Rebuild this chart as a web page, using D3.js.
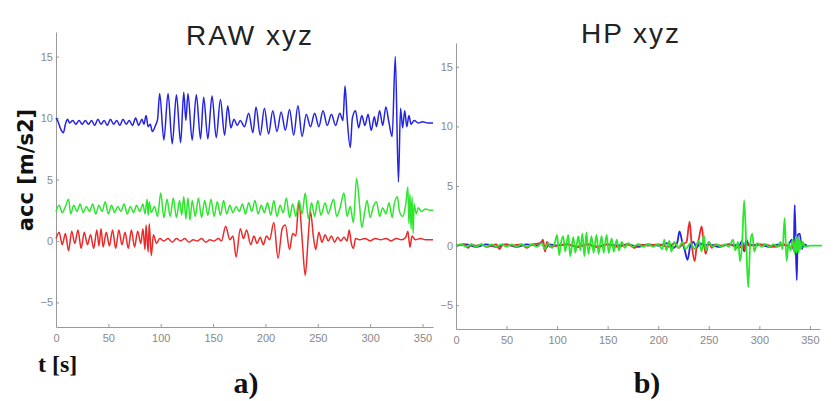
<!DOCTYPE html>
<html>
<head>
<meta charset="utf-8">
<script src="https://cdn.jsdelivr.net/npm/d3@7"></script>
<style>
  body { margin: 0; background: #fff; }
  .tick text { fill: #888; font-family: "Liberation Sans", Arial, sans-serif; font-size: 11px; }
  .domain, .tick line { stroke: #999; }
</style>
</head>
<body>
<div id="chart-area"></div>
<script>
// time axis / value axis ticks
var xTicks = [0, 50, 100, 150, 200, 250, 300, 350];
var yTicks = [-5, 0, 5, 10, 15];

// RAW signals, [t (s), acc (m/s2)]
var rawX = [[0,10.0],[2,9.7],[4,9.2],[7,8.8],[9,9.5],[11,9.9],[13,9.6],[16,9.8],[19,9.5],[22,9.8],[25,9.5],[28,9.8],[31,9.5],[34,9.8],[37,9.4],[40,9.9],[43,9.5],[46,9.8],[49,9.4],[52,9.9],[55,9.5],[58,9.8],[61,9.4],[64,9.9],[67,9.5],[70,9.8],[73,9.4],[76,10.0],[79,9.4],[82,9.9],[84,9.5],[86,10.2],[88,9.3],[90,9.5],[92,8.9],[95,9.4],[97,9.9],
  [99,12.0],[103,8.2],[107,12.0],[111,7.9],[115,11.9],[119,8.0],[122,12.1],[124,9.8],[126,12.0],[130,8.2],[134,11.9],[138,8.3],[141,11.7],[145,8.3],[149,11.8],[153,8.4],[157,11.5],[161,8.6],[164,11.0],[167,9.2],[170,9.9],[173,9.4],
  [176,9.8],[180,9.3],[184,10.4],[188,8.8],[191,10.9],[195,8.6],[199,10.8],[203,8.7],[207,10.6],[211,8.9],[215,10.5],[219,9.0],[223,10.7],[227,8.6],[231,11.0],[235,8.5],[239,10.3],[243,9.3],[247,10.4],[251,9.3],[255,10.6],[259,9.4],[263,10.3],[267,9.4],[271,10.4],[274,9.8],
  [276,12.6],[278,10.0],[281,7.6],[283,10.0],[286,10.6],[289,9.2],[292,10.2],[295,9.4],[298,10.3],[301,9.0],[304,10.1],[306,9.3],[309,10.6],[312,9.4],[315,10.9],[318,9.6],[321,8.5],[324,15.0],[327,4.8],[329,10.8],[331,9.2],[333,10.6],[335,9.3],[337,10.2],[339,9.5],[342,9.8],[346,9.6],[350,9.7],[355,9.6],[360,9.6]];

var rawY = [[0,2.4],[3,2.9],[6,2.3],[9,2.8],[12,3.4],[14,2.2],[17,2.9],[20,2.4],[23,3.0],[26,2.3],[29,2.8],[32,2.4],[35,3.0],[38,2.2],[41,2.9],[44,2.4],[47,3.2],[50,2.2],[53,2.9],[56,2.3],[59,2.8],[62,2.4],[65,3.0],[68,2.2],[71,2.8],[74,2.3],[77,2.9],[80,2.4],[83,3.0],[85,2.2],[87,3.4],[88,2.1],[89,3.2],[91,2.3],[94,2.8],[97,2.0],
  [100,3.9],[103,1.9],[106,3.4],[109,2.0],[112,3.5],[115,1.9],[118,3.3],[120,2.1],[122,3.6],[124,1.8],[126,3.5],[128,1.7],[130,3.3],[133,2.0],[136,3.5],[139,1.9],[142,3.3],[145,2.1],[148,3.4],[151,2.0],[154,3.2],[157,2.1],[160,3.3],[163,2.2],[166,2.9],[169,2.3],[172,2.8],[175,2.4],
  [178,3.0],[181,2.2],[184,3.1],[187,2.4],[190,3.3],[193,2.2],[196,2.9],[199,2.3],[202,3.1],[205,2.1],[208,3.3],[211,2.0],[214,2.9],[217,2.3],[220,3.5],[223,1.9],[226,3.0],[229,2.0],[232,3.3],[235,2.2],[238,3.9],[241,1.8],[244,3.1],[247,2.0],[250,3.3],[253,2.1],[257,3.1],[260,2.2],[263,3.0],[265,3.4],[268,2.0],[271,2.6],[275,3.9],[278,2.0],[281,2.8],[284,1.5],
  [287,5.1],[290,2.8],[292,1.1],[295,2.5],[297,3.3],[300,1.9],[303,2.8],[306,3.2],[309,2.0],[312,2.7],[315,2.2],[318,3.1],[321,1.9],[323,3.0],[326,3.6],[328,2.4],[331,2.0],[334,3.0],[336,4.4],[337,1.4],[338,3.8],[339,1.0],[340,3.6],[341,0.6],[342,3.0],[344,2.2],[346,2.7],[349,2.4],[353,2.6],[357,2.5],[360,2.5]];

var rawZ = [[0,0.2],[3,0.7],[6,-0.3],[9,0.6],[12,-0.8],[15,0.8],[18,-0.2],[21,0.9],[24,-0.6],[27,0.7],[30,-0.3],[33,0.5],[36,-0.6],[39,0.9],[41,-0.4],[43,1.0],[45,-0.5],[48,0.7],[51,-0.4],[54,0.9],[57,-0.6],[60,0.9],[63,-0.3],[66,0.7],[69,-0.6],[72,0.9],[75,-0.5],[78,0.8],[81,-0.2],[83,1.0],[85,-0.7],[86,1.3],[88,-0.9],[89,1.4],[91,-1.2],[93,0.5],[96,-0.2],
  [99,0.2],[103,0.0],[107,0.2],[111,-0.1],[115,0.2],[119,0.0],[123,0.2],[127,-0.1],[131,0.1],[135,0.0],[139,0.2],[143,-0.1],[147,0.1],[151,0.0],[155,0.2],[158,0.0],
  [162,1.2],[166,0.1],[169,0.4],[172,-1.3],[176,1.0],[179,0.2],[182,0.9],[186,-0.3],[189,0.4],[192,-0.2],[195,0.3],[198,-0.3],[201,0.4],[204,0.1],[208,1.5],[212,-1.4],[216,1.0],[219,1.3],[223,-0.7],[226,0.6],[229,0.4],[232,3.2],[235,0.2],[238,-2.8],[241,0.5],[243,2.4],[246,0.2],[248,-0.7],[251,0.7],[254,-0.1],[257,0.5],[260,0.0],[263,0.4],[266,-0.1],[269,0.3],[272,0.0],[275,0.3],[278,0.0],[280,0.9],[282,-0.2],[284,-0.6],[286,0.2],
  [290,0.1],[295,0.2],[300,0.0],[305,0.2],[310,0.1],[315,0.2],[320,0.0],[325,0.2],[330,0.1],[334,0.3],[336,0.8],[338,-0.5],[340,0.4],[343,0.1],[348,0.2],[353,0.1],[360,0.1]];

// high-pass filtered signals
var hpX = [[0,0],[10,0.1],[20,-0.1],[30,0.1],[40,-0.1],[50,0.1],[60,-0.1],[70,0.1],[80,0],[85,0.3],[88,-0.3],[92,0.1],[100,0],[110,0.1],[120,-0.1],[130,0.1],[140,-0.1],[150,0.1],[160,0],[170,0.1],[180,-0.1],[190,0.1],[200,0],[210,0.2],[215,-0.2],[219,0.3],[221,1.2],[224,0.2],[226,-0.3],[229,-1.2],[232,0.1],[235,0.3],[238,-0.2],[241,0.2],[245,0.0],[250,0.1],[260,-0.1],[270,0.1],[280,0],[283,0.4],[285,-0.5],[287,0.5],[290,0],[300,0.1],[310,-0.1],[320,0.1],[328,0],[332,0.5],[334,-0.4],[335,3.4],[337,-2.9],[338,0.9],[340,1.0],[342,-0.3],[344,0.1],[347,0]];

var hpY = [[0,0],[5,0.1],[10,-0.1],[15,0.1],[20,-0.1],[25,0.1],[30,-0.1],[35,0.1],[40,-0.1],[45,0.1],[50,-0.1],[55,0.1],[60,-0.1],[65,0.1],[70,-0.1],[75,0.1],[80,-0.1],[85,0.2],[88,-0.3],[91,0.2],[95,-0.2],[98,0.3],
  [100,0.9],[102,-0.8],[104,0.3],[106,0.8],[108,-0.5],[111,0.9],[113,-0.9],[116,0.7],[118,-0.6],[121,0.8],[123,-0.4],[125,1.0],[127,-0.9],[129,1.1],[131,-0.7],[134,0.8],[136,-0.6],[139,0.9],[141,-0.7],[144,0.8],[146,-0.6],[149,0.9],[151,-0.6],[154,0.6],[156,-0.5],[159,0.5],[161,-0.4],[164,0.3],[167,-0.2],[170,0.2],
  [175,-0.1],[180,0.1],[185,-0.1],[190,0.1],[195,-0.1],[200,0.1],[204,-0.3],[206,0.5],[208,-0.4],[211,0.4],[213,-0.5],[216,0.3],[220,-0.2],[224,0.3],[227,-0.3],[232,0.2],[236,-0.3],[240,0.4],[243,-0.5],[245,0.9],[247,-0.4],[250,0.3],[254,-0.1],[258,0.1],[262,-0.1],[266,0.1],[270,-0.1],[274,0.5],[276,-0.4],[279,0.3],[281,-1.3],[283,0.2],
  [285,3.8],[287,0.3],[289,-3.5],[291,0.2],[293,1.0],[295,-0.5],[298,0.2],[302,-0.1],[306,0.1],[310,-0.1],[314,0.1],[318,-0.1],[321,0.3],[323,-0.3],[325,2.3],[327,-1.3],[329,0.2],[331,-0.4],[333,0.5],[335,-0.7],[336,0.8],[337,-0.6],[338,0.7],[339,-0.6],[340,0.5],[341,-0.3],[343,0.3],[345,-0.1],[350,0.0],[362,0.0]];

var hpZ = [[0,0],[8,0.1],[12,-0.2],[15,0.1],[20,0],[25,0.1],[30,-0.1],[40,0.1],[43,-0.3],[46,0.1],[55,0],[65,0.1],[70,-0.2],[75,0.1],[84,0.2],[86,0.5],[88,-0.5],[90,0.3],[93,-0.1],[100,0],[110,0.1],[120,-0.1],[130,0.1],[140,-0.1],[150,0.1],[160,-0.1],[170,0.1],[177,-0.2],[180,0.1],[190,0],[200,0.1],[210,-0.1],[216,0.2],[220,-0.2],[224,0.1],[228,0.3],
  [231,2.0],[233,0.2],[236,-1.3],[238,-0.1],[240,0.5],[243,1.6],[245,0.2],[247,-0.7],[250,0.3],[253,-0.2],[256,0.1],[262,0],[270,0.1],[280,-0.2],[284,0.1],[286,-0.4],[288,0.1],[295,0],[305,0.1],[315,-0.1],[325,0.1],[332,-0.2],[335,0.3],[338,-0.2],[341,0.2],[344,0]];

var colors = { x: "#2424e0", y: "#2ee62e", z: "#ec2a2a" };

var svg = d3.select("#chart-area")
  .append("svg")
    .attr("width", 838)
    .attr("height", 401);

function panel(cfg) {
  var x = d3.scaleLinear().domain([0, 360]).range(cfg.xRange);
  var y = d3.scaleLinear().domain([-7, 17]).range(cfg.yRange);

  var g = svg.append("g");

  g.append("g")
    .attr("transform", "translate(0," + cfg.yRange[0] + ")")
    .call(d3.axisBottom(x).tickValues(xTicks).tickSize(-3).tickSizeOuter(0).tickPadding(7));

  g.append("g")
    .attr("transform", "translate(" + cfg.xRange[0] + ",0)")
    .call(d3.axisLeft(y).tickValues(yTicks).tickSize(-3).tickSizeOuter(0).tickPadding(3));

  var line = d3.line()
    .x(function(d) { return x(d[0]); })
    .y(function(d) { return y(d[1]); })
    .curve(d3.curveMonotoneX);

  // draw x, z then y so green sits on top
  [[cfg.sx, colors.x], [cfg.sz, colors.z], [cfg.sy, colors.y]].forEach(function(s) {
    g.append("path")
      .datum(s[0])
      .attr("fill", "none")
      .attr("stroke", s[1])
      .attr("stroke-width", cfg.lw)
      .attr("stroke-linejoin", "round")
      .attr("d", line);
  });

  g.append("text")
    .attr("x", cfg.titleX)
    .attr("y", cfg.titleY)
    .attr("text-anchor", "middle")
    .attr("font-family", "Liberation Sans, Arial, sans-serif")
    .attr("font-size", "28px")
    .attr("letter-spacing", "2px")
    .attr("fill", "#222")
    .text(cfg.title);

  g.append("text")
    .attr("x", cfg.capX)
    .attr("y", 393)
    .attr("text-anchor", "middle")
    .attr("font-family", "Liberation Serif, Times New Roman, serif")
    .attr("font-weight", "bold")
    .attr("font-size", "30px")
    .attr("fill", "#111")
    .text(cfg.cap);
}

panel({ xRange: [56, 433], yRange: [327, 32], sx: rawX, sy: rawY, sz: rawZ, lw: 1.5,
        title: "RAW xyz", titleX: 250, titleY: 45, cap: "a)", capX: 246 });
panel({ xRange: [456, 820], yRange: [329, 43], sx: hpX, sy: hpY, sz: hpZ, lw: 1.8,
        title: "HP xyz", titleX: 631, titleY: 43, cap: "b)", capX: 647 });

// Y label
svg.append("text")
  .attr("transform", "translate(33,170) rotate(-90)")
  .attr("text-anchor", "middle")
  .attr("font-family", "DejaVu Sans, sans-serif")
  .attr("font-weight", "bold")
  .attr("font-size", "21px")
  .attr("fill", "#111")
  .text("acc [m/s2]");

// X label
svg.append("text")
  .attr("x", 38)
  .attr("y", 372)
  .attr("font-family", "Liberation Serif, Times New Roman, serif")
  .attr("font-weight", "bold")
  .attr("font-size", "24px")
  .attr("fill", "#111")
  .text("t [s]");
</script>
</body>
</html>
